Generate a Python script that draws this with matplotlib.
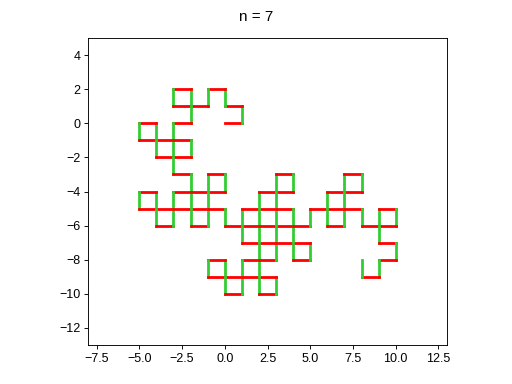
import matplotlib
matplotlib.use("Agg")
import matplotlib.pyplot as plt
from matplotlib.ticker import MultipleLocator
import numpy as np

plt.rcParams["font.family"] = ["Liberation Sans", "DejaVu Sans"]

# turn sequence of the curve (L = left, R = right), start heading east at origin
order = 7
start = (0, 0)
turns = (
    "LLRLLRRLLLRRLRRL" "LLRLLRRRLLRRLRRL" "LLRLLRRLLLRRLRRR" "LLRLLRRRLLRRLRR"
    "L"
    "LLRLLRRLLLRRLRR" "LLLRLLRRRLLRRLRR" "RLLRLLRRLLLRRLRR" "RLLRLLRRRLLRRLRR"
)
horizontal_color = "#ff0000"
vertical_color = "#32cd32"

steps = [(1, 0), (0, 1), (-1, 0), (0, -1)]
heading = 0
headings = [heading]
for t in turns:
    heading = (heading + (1 if t == "L" else -1)) % 4
    headings.append(heading)

moves = np.array([steps[h] for h in headings])
points = np.vstack([start, np.cumsum(moves, axis=0) + start])

fig = plt.figure(figsize=(5.12, 3.84), dpi=100)
ax = fig.add_axes([88 / 512, 39 / 384, 359 / 512, 307 / 384])
for (x0, y0), (x1, y1) in zip(points[:-1], points[1:]):
    color = horizontal_color if y0 == y1 else vertical_color
    ax.plot([x0, x1], [y0, y1], color=color, lw=2)

ax.set_xlim(-8, 13)
ax.set_ylim(-13, 5)
ax.xaxis.set_major_locator(MultipleLocator(2.5))
ax.yaxis.set_major_locator(MultipleLocator(2))
ax.tick_params(labelsize=9, length=2.8, width=0.65, pad=2.8)
for spine in ax.spines.values():
    spine.set_linewidth(0.65)
fig.suptitle(f"n = {order}", fontsize=11, y=0.975)

fig.savefig("out.png", dpi=100)
